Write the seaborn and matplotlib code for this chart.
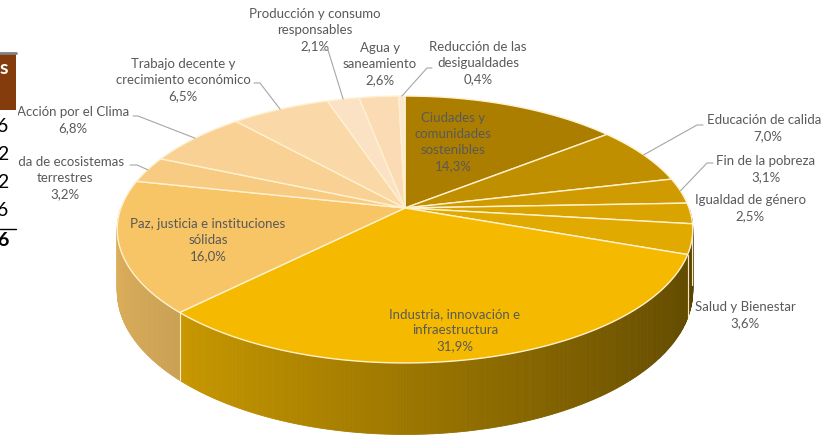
import numpy as np
import matplotlib
matplotlib.use("Agg")
import matplotlib.pyplot as plt
import matplotlib.colors as mcolors
from matplotlib.patches import Polygon, Rectangle
import seaborn as sns

# Slices in clockwise order starting at 12 o'clock
categories = [
    "Ciudades y\ncomunidades\nsostenibles",
    "Educación de calidad",
    "Fin de la pobreza",
    "Igualdad de género",
    "Salud y Bienestar",
    "Industria, innovación e\ninfraestructura",
    "Paz, justicia e instituciones\nsólidas",
    "Vida de ecosistemas\nterrestres",
    "Acción por el Clima",
    "Trabajo decente y\ncrecimiento económico",
    "Producción y consumo\nresponsables",
    "Agua y\nsaneamiento",
    "Reducción de las\ndesigualdades",
]
shares = [14.3, 7.0, 3.1, 2.5, 3.6, 31.9, 16.0, 3.2, 6.8, 6.5, 2.1, 2.6, 0.4]
slice_colors = [
    "#AC7E00", "#C08F00", "#CF9B00", "#D9A300", "#E1AA00", "#F5BA00",
    "#F7C466", "#F8CB82", "#F9D195", "#FAD8A8", "#FBE2C4", "#FADBB4", "#FCE8D0",
]

# label layout (pixel positions of label centres), leader anchor/elbow or None
label_xy = [
    (453, 142), (768, 128), (766, 169), (750, 208), (745, 315), (455, 330),
    (208, 240), (65, 178), (73, 120), (183, 80), (315, 30), (380, 64), (478, 63),
]
leaders = [
    None, [(703, 125), (697, 125)], [(713, 163), (707, 163)], None, None, None,
    None, [(130, 165), (137, 165)], [(133, 116), (138, 116)],
    [(254, 83), (260, 83)], [(321, 50), (328, 50)], None, [(432, 68), (427, 68)],
]

# left table fragment (cut off by the crop)
table_values = ["6", "2", "2", "6", "6"]

# 3D pie geometry
CX, CY = 405, 208
RX, RY = 284, 130
K = 0.161
DEPTH = 60
TEXT_COLOR = "#595959"
EDGE_COLOR = "#FFF1CF"


def project(theta_deg, h=0.0):
    t = np.radians(theta_deg)
    x, z = np.cos(t), np.sin(t)
    p = 1.0 / (1.0 + K * z)
    return CX + RX * x * p, CY - RY * z * p + DEPTH * h * p


def darken(color, f):
    return tuple(np.clip(np.array(mcolors.to_rgb(color)) * f, 0, 1))


sns.set_theme(style="white")
plt.rcParams["font.family"] = ["Lato", "DejaVu Sans"]

fig = plt.figure(figsize=(8.22, 4.37), dpi=100)
ax = fig.add_axes([0, 0, 1, 1])
ax.set_xlim(0, 822)
ax.set_ylim(437, 0)
ax.axis("off")

cum = np.concatenate([[0.0], np.cumsum(shares)]) / np.sum(shares) * 360.0
theta_hi = 90.0 - cum[:-1]
theta_lo = 90.0 - cum[1:]

# side wall (front half only), shaded from left to right
for i, col in enumerate(slice_colors):
    lo, hi = max(theta_lo[i], -180.0), min(theta_hi[i], 0.0)
    if lo >= hi:
        continue
    ts = np.linspace(lo, hi, max(int((hi - lo) / 0.5), 2))
    for t1, t2 in zip(ts[:-1], ts[1:]):
        quad = [project(t1), project(t2), project(t2, 1), project(t1, 1)]
        tm = np.radians(0.5 * (t1 + t2))
        shade = darken(col, 0.64 - 0.25 * np.cos(tm))
        ax.add_patch(Polygon(quad, closed=True, facecolor=shade,
                             edgecolor=shade, lw=0.6, zorder=1))

for t in np.concatenate([theta_lo, theta_hi]):
    if -180 < t < 0:
        (x0, y0), (x1, y1) = project(t), project(t, 1)
        ax.plot([x0, x1], [y0, y1], color=EDGE_COLOR, lw=0.8, alpha=0.8, zorder=2)

# top surface
for i, col in enumerate(slice_colors):
    ts = np.linspace(theta_hi[i], theta_lo[i], max(int((theta_hi[i] - theta_lo[i]) * 2), 3))
    pts = [(CX, CY)] + [project(t) for t in ts]
    ax.add_patch(Polygon(pts, closed=True, facecolor=col,
                         edgecolor=EDGE_COLOR, lw=1.0, zorder=3))

# labels and leader lines
for i, name in enumerate(categories):
    pct = f"{shares[i]:.1f}%".replace(".", ",")
    lx, ly = label_xy[i]
    ax.text(lx, ly, f"{name}\n{pct}", ha="center", va="center",
            fontsize=9.5, color=TEXT_COLOR, linespacing=1.38, zorder=4)
    if leaders[i] is not None:
        mid = 0.5 * (theta_hi[i] + theta_lo[i])
        rx, ry = project(mid)
        (ax0, ay0), (ex, ey) = leaders[i]
        ax.plot([ax0, ex, rx], [ay0, ey, ry], color="#A6A6A6", lw=0.8, zorder=4)

# left table fragment
ax.add_patch(Rectangle((0, 110), 18, 140, facecolor="white", edgecolor="none", zorder=5))
ax.add_patch(Rectangle((0, 53), 16, 57, facecolor="#843C0C", edgecolor="none", zorder=5))
ax.plot([0, 16], [53, 53], color="#808080", lw=2, zorder=6)
ax.text(4, 69, "s", ha="center", va="center", fontsize=14, fontweight="bold",
        color="white", zorder=6)
for j, (v, y) in enumerate(zip(table_values, [127, 155, 183, 211, 240])):
    ax.text(8, y, v, ha="right", va="center", fontsize=14, color="black",
            fontweight="bold" if j == len(table_values) - 1 else "normal", zorder=6)
ax.plot([0, 16], [229, 229], color="black", lw=1, zorder=6)

fig.savefig("out.png", dpi=100, facecolor="white")
